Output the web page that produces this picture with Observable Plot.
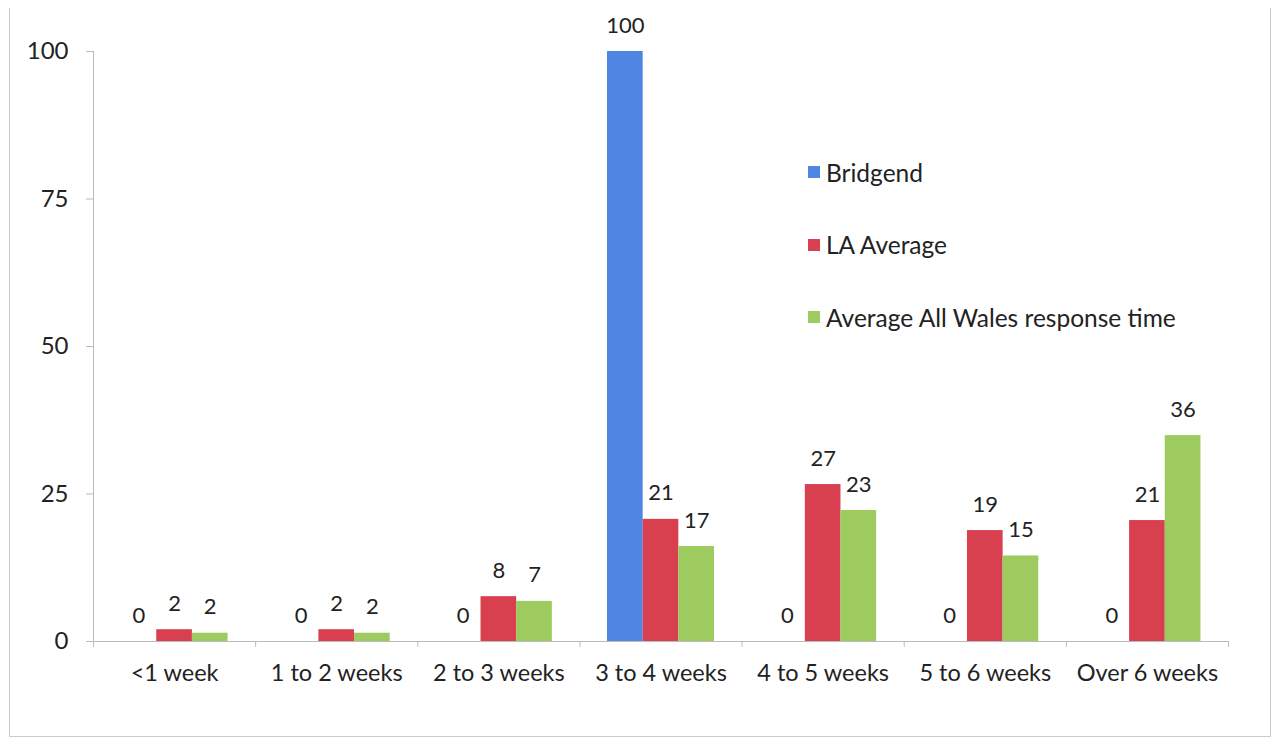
<!DOCTYPE html>
<html>
<head>
<meta charset="utf-8">
<script src="https://cdn.jsdelivr.net/npm/d3@7"></script>
<script src="https://cdn.jsdelivr.net/npm/@observablehq/plot@0.6"></script>
<style>
  html, body { margin: 0; padding: 0; background: #fff; }
  #wrap { position: relative; width: 1274px; height: 740px; font-family: Lato, "Open Sans", sans-serif; }
  #frame { position: absolute; left: 9px; top: 8px; width: 1262px; height: 729px; border-left: 1px solid #ccc; border-right: 1px solid #ccc; border-bottom: 1px solid #ccc; box-sizing: border-box; pointer-events: none; }
  #legend { position: absolute; left: 808px; top: 159px; font-size: 24.5px; color: #222; }
  #legend .item { display: flex; align-items: center; height: 26px; margin-bottom: 46.5px; }
  #legend .sw { width: 12px; height: 12px; margin-right: 6px; }
</style>
</head>
<body>
<div id="wrap">
  <div id="chart"></div>
  <div id="legend"></div>
  <div id="frame"></div>
</div>
<script>
const categories = ["<1 week", "1 to 2 weeks", "2 to 3 weeks", "3 to 4 weeks", "4 to 5 weeks", "5 to 6 weeks", "Over 6 weeks"];
const series = ["Bridgend", "LA Average", "Average All Wales response time"];
const colors = ["#4f86e3", "#d8404f", "#9dcb5f"];
const bridgend = [0, 0, 0, 100, 0, 0, 0];
const laAverage = [2, 2, 7.6, 20.7, 26.6, 18.8, 20.5];
const allWales = [1.4, 1.4, 6.8, 16.1, 22.2, 14.5, 34.9];
const bridgendLabels = [0, 0, 0, 100, 0, 0, 0];
const laLabels = [2, 2, 8, 21, 27, 19, 21];
const walesLabels = [2, 2, 7, 17, 23, 15, 36];
const yTicks = [0, 25, 50, 75, 100];

const values = [bridgend, laAverage, allWales];
const labels = [bridgendLabels, laLabels, walesLabels];
const groupPad = 0.17, barW = 0.22;

const rows = [];
categories.forEach((c, i) => {
  series.forEach((s, j) => {
    rows.push({cat: c, i, j, series: s, value: values[j][i], label: labels[j][i],
      x1: i + groupPad + j * barW, x2: i + groupPad + (j + 1) * barW, xm: i + groupPad + (j + 0.5) * barW});
  });
});

const chart = Plot.plot({
  width: 1274,
  height: 740,
  marginLeft: 93,
  marginRight: 46,
  marginTop: 51,
  marginBottom: 99,
  style: {fontFamily: "Lato, 'Open Sans', sans-serif", fontSize: "22px", color: "#222", background: "transparent"},
  x: {domain: [0, categories.length], axis: null},
  y: {domain: [0, 100], axis: null},
  color: {domain: series, range: colors},
  marks: [
    Plot.ruleY([0], {stroke: "#bbb"}),
    Plot.ruleX([0], {y1: 0, y2: 100, stroke: "#bbb"}),
    Plot.ruleX(d3.range(categories.length + 1), {y1: 0, y2: -1, stroke: "#bbb"}),
    Plot.rectY(rows.filter(d => d.value > 0), {x1: "x1", x2: "x2", y: "value", fill: "series"}),
    Plot.text(rows, {x: "xm", y: "value", text: d => String(d.label), dy: -26, fill: "#222", fontSize: 22}),
    Plot.axisY(yTicks, {tickSize: 7, tickPadding: 18, fontSize: 24, stroke: "#bbb", fill: "#222", label: null}),
    Plot.axisX(categories.map((_, i) => i + 0.5), {tickSize: 0, tickPadding: 23, fontSize: 23.5, fill: "#222", tickFormat: d => categories[Math.floor(d)], label: null})
  ]
});
document.getElementById("chart").appendChild(chart);

const legend = document.getElementById("legend");
series.forEach((s, j) => {
  const item = document.createElement("div");
  item.className = "item";
  const sw = document.createElement("span");
  sw.className = "sw";
  sw.style.background = colors[j];
  const t = document.createElement("span");
  t.textContent = s;
  item.appendChild(sw);
  item.appendChild(t);
  legend.appendChild(item);
});
</script>
</body>
</html>
